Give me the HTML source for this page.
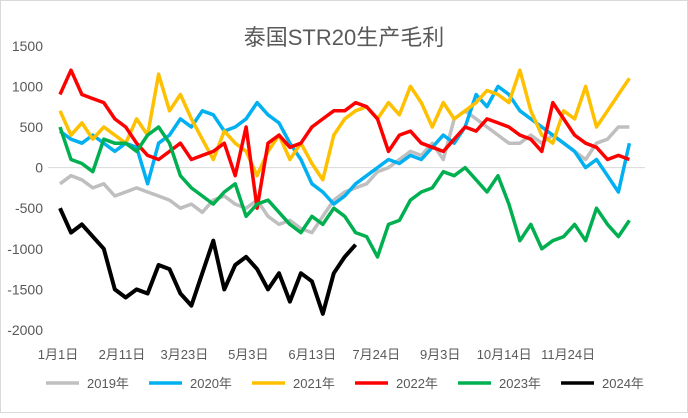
<!DOCTYPE html>
<html><head><meta charset="utf-8"><style>
body{margin:0;background:#fff}
svg text{font-family:"Liberation Sans","Noto Sans CJK SC",sans-serif;fill:#595959}
</style></head><body>
<svg id="chart" width="688" height="413" xmlns="http://www.w3.org/2000/svg">
<rect x="0.5" y="0.5" width="687" height="412" fill="#fff" stroke="#d9d9d9"/>
<text x="344" y="45" font-size="22" text-anchor="middle">泰国STR20生产毛利</text>
<g id="axes"></g><g id="series"></g><g id="legend"></g>
</svg>
<script>
const yTicks=[1500,1000,500,0,-500,-1000,-1500,-2000];
const xLabels=["1月1日","2月11日","3月23日","5月3日","6月13日","7月24日","9月3日","10月14日","11月24日"];
const xLabelDays=[0,41,81,122,163,204,245,286,327];
const seriesNames=["2019年","2020年","2021年","2022年","2023年","2024年"];
const s2019=[-200,-100,-150,-250,-200,-350,-300,-250,-300,-350,-400,-500,-450,-550,-400,-350,-450,-500,-400,-600,-700,-650,-750,-800,-600,-400,-300,-250,-200,-50,0,100,200,150,300,100,600,700,600,500,400,300,300,400,300,400,300,200,100,300,350,500,500];
const s2020=[450,350,300,400,300,200,300,250,-200,300,400,600,500,700,650,450,500,600,800,650,550,300,100,-200,-300,-450,-350,-200,-100,0,100,50,150,100,250,400,300,500,900,750,1000,900,700,600,500,400,300,200,0,100,-100,-300,300];
const s2021=[700,400,550,350,500,400,300,600,400,1150,700,900,600,350,100,450,300,200,-100,200,400,100,300,50,-150,400,600,700,750,600,800,650,1000,800,500,800,600,700,800,950,900,800,1200,700,400,300,700,600,1000,500,700,900,1100];
const s2022=[900,1200,900,850,800,600,500,300,150,100,200,300,100,150,200,300,-100,500,-500,300,400,250,300,500,600,700,700,800,750,600,200,400,450,300,250,200,350,500,450,600,550,500,400,350,200,800,600,400,300,250,100,150,100];
const s2023=[500,100,50,-50,350,300,300,200,400,500,300,-100,-250,-350,-450,-300,-200,-600,-450,-400,-550,-700,-800,-600,-700,-500,-600,-800,-850,-1100,-700,-650,-400,-300,-250,-50,-100,0,-150,-300,-100,-450,-900,-700,-1000,-900,-850,-700,-900,-500,-700,-850,-650];
const s2024=[-500,-800,-700,-850,-1000,-1500,-1600,-1500,-1550,-1200,-1250,-1550,-1700,-1300,-900,-1500,-1200,-1100,-1250,-1500,-1300,-1650,-1300,-1400,-1800,-1300,-1100,-950];
const colors=["#BFBFBF","#00B0F0","#FFC000","#FF0000","#00B050","#000000"];
const allSeries=[s2019,s2020,s2021,s2022,s2023,s2024];
const NS="http://www.w3.org/2000/svg";
function yScale(v){return 167.6-v*0.0812;}
function xWeek(w){return 60+w*10.95;}
function xDay(d){return 58+d*1.56;}
const axes=document.getElementById('axes');
yTicks.forEach(v=>{const t=document.createElementNS(NS,'text');


t.setAttribute('x',43);t.setAttribute('y',yScale(v)+5);t.setAttribute('font-size','14');t.setAttribute('text-anchor','end');t.textContent=v;axes.appendChild(t);});
const zl=document.createElementNS(NS,'line');


zl.setAttribute('x1',48);zl.setAttribute('x2',645);zl.setAttribute('y1',yScale(0));zl.setAttribute('y2',yScale(0));zl.setAttribute('stroke','#d9d9d9');axes.appendChild(zl);
xLabels.forEach((l,i)=>{const t=document.createElementNS(NS,'text');


t.setAttribute('x',xDay(xLabelDays[i]));t.setAttribute('y',359);t.setAttribute('font-size','13');t.setAttribute('text-anchor','middle');t.textContent=l;axes.appendChild(t);});
const sg=document.getElementById('series');
allSeries.forEach((s,i)=>{const p=document.createElementNS(NS,'polyline');


p.setAttribute('points',s.map((v,w)=>xWeek(w).toFixed(1)+','+yScale(v).toFixed(1)).join(' '));
p.setAttribute('fill','none');p.setAttribute('stroke',colors[i]);p.setAttribute('stroke-width',i==5?4:3.5);p.setAttribute('stroke-linejoin','round');sg.appendChild(p);});
const lg=document.getElementById('legend');
seriesNames.forEach((n,i)=>{const x0=46+i*103;
const g=document.createElementNS(NS,'g');


const l=document.createElementNS(NS,'line');


l.setAttribute('x1',x0);l.setAttribute('x2',x0+33);l.setAttribute('y1',383);l.setAttribute('y2',383);l.setAttribute('stroke',colors[i]);l.setAttribute('stroke-width',3.5);g.appendChild(l);
const t=document.createElementNS(NS,'text');


t.setAttribute('x',x0+41);t.setAttribute('y',388);t.setAttribute('font-size','13');t.textContent=n;g.appendChild(t);lg.appendChild(g);});
</script>
</body></html>
